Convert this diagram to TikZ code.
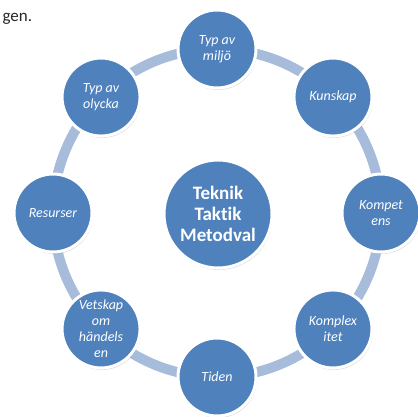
\documentclass[tikz,border=0pt]{standalone}
\usepackage{fontspec}
\setmainfont[Ligatures=NoCommon]{Carlito}
\usetikzlibrary{backgrounds,shadows}
\definecolor{ringblue}{RGB}{167,187,218}
\definecolor{ballblue}{RGB}{79,129,189}
\tikzset{
    ball/.style={circle,fill=ballblue,draw=white,line width=3pt,minimum size=78pt,inner sep=0pt,
        align=center,text=white,font=\itshape\fontsize{14}{16}\selectfont,
        drop shadow={opacity=0.25,shadow xshift=1pt,shadow yshift=-2pt}},
    ring/.style={ringblue,line width=10pt}
}

\begin{document}
\begin{tikzpicture}[x=1pt,y=1pt]
    \useasboundingbox (0,0) rectangle (417,417);
    \coordinate (O) at (217,204);
    \node[anchor=base west,font=\fontsize{17}{20}\selectfont,text=black!85] (intro) at (-1,395) {gen.};
    \node[ball,minimum size=108pt,font=\bfseries\fontsize{19}{21}\selectfont] (mitt) at (218,203) {Teknik\\Taktik\\Metodval};
    \foreach \a/\n/\t in {90/miljo/{Typ av\\miljö},45/kunskap/Kunskap,0/kompetens/{Kompet\\ens},
        -45/komplexitet/{Komplex\\itet},-90/tiden/Tiden,-135/vetskap/{Vetskap\\om\\händels\\en},
        180/resurser/Resurser,135/olycka/{Typ av\\olycka}} {
        \node[ball] (\n) at ([shift={(\a:164)}]O) {\t};
      }
    % the ring behind the balls
    \begin{scope}[on background layer]
        \foreach \a/\n in {90/miljo,45/kunskap,0/kompetens,-45/komplexitet,-90/tiden,-135/vetskap,180/resurser,135/olycka}
            \draw[ring] (\n.center) arc[start angle=\a,end angle=\a-45,radius=164pt];
    \end{scope}
  \end{tikzpicture}
\end{document}
